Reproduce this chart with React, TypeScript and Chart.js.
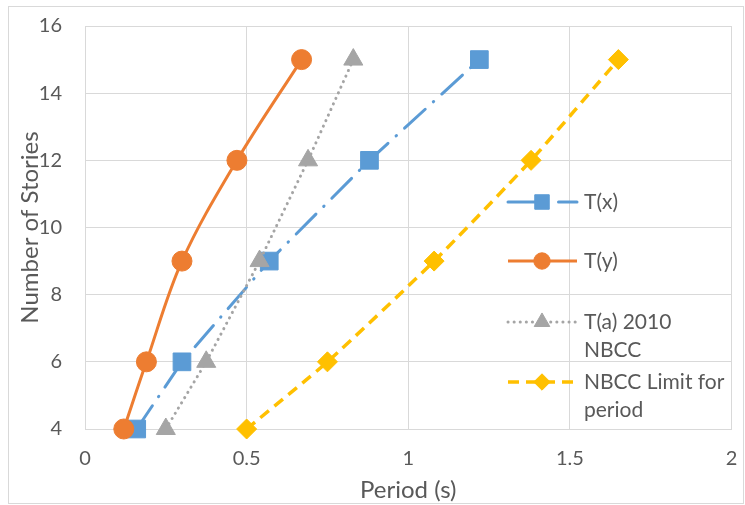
import React, { useEffect, useRef } from "react";
import { Chart, registerables } from "chart.js";

Chart.register(...registerables);

const stories = [4, 6, 9, 12, 15];
const periodTx = [0.16, 0.3, 0.57, 0.88, 1.22];
const periodTy = [0.12, 0.19, 0.3, 0.47, 0.67];
const periodTa = [0.25, 0.375, 0.54, 0.69, 0.83];
const periodLimit = [0.5, 0.75, 1.08, 1.38, 1.65];
const seriesNames = ["T(x)", "T(y)", "T(a) 2010 NBCC", "NBCC Limit for period"];
const legendLines = [["T(x)"], ["T(y)"], ["T(a) 2010", "NBCC"], ["NBCC Limit for", "period"]];
const xTitle = "Period (s)";
const yTitle = "Number of Stories";

const FONT = "Lato, 'Liberation Sans', sans-serif";
const TEXT = "#595959";
const GRID = "#d9d9d9";

const toPoints = (xs: number[]) => xs.map((x, i) => ({ x, y: stories[i] }));

function drawMarker(ctx: CanvasRenderingContext2D, style: string, x: number, y: number, r: number, color: string) {
  ctx.save();
  ctx.setLineDash([]);
  ctx.fillStyle = color;
  ctx.strokeStyle = color;
  ctx.lineWidth = 1;
  ctx.beginPath();
  if (style === "rect") {
    const s = Math.SQRT1_2 * r;
    ctx.rect(x - s, y - s, 2 * s, 2 * s);
  } else if (style === "circle") {
    ctx.arc(x, y, r, 0, Math.PI * 2);
  } else if (style === "triangle") {
    ctx.moveTo(x, y - r);
    ctx.lineTo(x + r * Math.sin(Math.PI / 3), y + r / 2);
    ctx.lineTo(x - r * Math.sin(Math.PI / 3), y + r / 2);
    ctx.closePath();
  } else {
    ctx.moveTo(x, y - r);
    ctx.lineTo(x + r, y);
    ctx.lineTo(x, y + r);
    ctx.lineTo(x - r, y);
    ctx.closePath();
  }
  ctx.fill();
  ctx.stroke();
  ctx.restore();
}

const framePlugin = {
  id: "frame",
  beforeDraw(chart: any) {
    const ctx = chart.ctx;
    ctx.save();
    ctx.fillStyle = "#ffffff";
    ctx.fillRect(0, 0, chart.width, chart.height);
    ctx.strokeStyle = GRID;
    ctx.lineWidth = 1;
    ctx.strokeRect(8.5, 6.5, 735, 497);
    ctx.restore();
  },
};

const legendPlugin = {
  id: "customLegend",
  afterDraw(chart: any) {
    const ctx = chart.ctx;
    const rows = [202, 261, 322, 382];
    chart.data.datasets.forEach((ds: any, i: number) => {
      const y = rows[i];
      ctx.save();
      ctx.strokeStyle = ds.borderColor;
      ctx.lineWidth = ds.borderWidth;
      ctx.setLineDash(ds.borderDash || []);
      ctx.lineCap = ds.borderCapStyle || "butt";
      ctx.beginPath();
      ctx.moveTo(508, y);
      ctx.lineTo(577, y);
      ctx.stroke();
      ctx.restore();
      drawMarker(ctx, ds.pointStyle, 542, y, ds.pointRadius * 0.82, ds.borderColor);
      ctx.save();
      ctx.fillStyle = TEXT;
      ctx.font = `21px ${FONT}`;
      ctx.textAlign = "left";
      ctx.textBaseline = "middle";
      legendLines[i].forEach((t, k) => ctx.fillText(t, 584, y + k * 28));
      ctx.restore();
    });
  },
};

const zeroPad = (s: any) => {
  s.paddingLeft = 0;
  s.paddingRight = 0;
  s.paddingTop = 0;
  s.paddingBottom = 0;
};

export default function App() {
  const ref = useRef<HTMLCanvasElement>(null);
  useEffect(() => {
    document.body.style.margin = "0";
    const chart = new Chart(ref.current as HTMLCanvasElement, {
      type: "line",
      data: {
        datasets: [
          {
            label: seriesNames[0],
            data: toPoints(periodTx),
            borderColor: "#5B9BD5",
            backgroundColor: "#5B9BD5",
            borderWidth: 3,
            borderDash: [28, 11, 0.5, 11],
            borderCapStyle: "round",
            pointStyle: "rect",
            pointRadius: 12.5,
            pointBorderWidth: 1,
            tension: 0,
            order: 3,
            clip: false,
          },
          {
            label: seriesNames[1],
            data: toPoints(periodTy),
            borderColor: "#ED7D31",
            backgroundColor: "#ED7D31",
            borderWidth: 3,
            pointStyle: "circle",
            pointRadius: 10,
            pointBorderWidth: 1,
            tension: 0.35,
            order: 2,
            clip: false,
          },
          {
            label: seriesNames[2],
            data: toPoints(periodTa),
            borderColor: "#A5A5A5",
            backgroundColor: "#A5A5A5",
            borderWidth: 3,
            borderDash: [0.1, 6],
            borderCapStyle: "round",
            pointStyle: "triangle",
            pointRadius: 11,
            pointBorderWidth: 1,
            tension: 0,
            order: 1,
            clip: false,
          },
          {
            label: seriesNames[3],
            data: toPoints(periodLimit),
            borderColor: "#FFC000",
            backgroundColor: "#FFC000",
            borderWidth: 3.5,
            borderDash: [11, 7],
            pointStyle: "rectRot",
            pointRadius: 10,
            pointBorderWidth: 1,
            tension: 0.2,
            order: 0,
            clip: false,
          },
        ],
      },
      options: {
        animation: false,
        responsive: false,
        layout: { padding: { left: 0, top: 26, right: 10, bottom: 0 } },
        plugins: { legend: { display: false }, tooltip: { enabled: false } },
        scales: {
          x: {
            type: "linear",
            min: 0,
            max: 2,
            ticks: {
              stepSize: 0.5,
              color: TEXT,
              font: { family: FONT, size: 20 },
              padding: 18,
              maxRotation: 0,
              callback: (v: any) => String(v),
            },
            grid: { color: GRID, lineWidth: 1, drawTicks: false },
            border: { color: GRID },
            title: { display: true, text: xTitle, color: TEXT, font: { family: FONT, size: 24 }, padding: { top: 3, bottom: 0 } },
            afterFit: (s: any) => { s.height = 76; zeroPad(s); },
          },
          y: {
            type: "linear",
            min: 4,
            max: 16,
            ticks: { stepSize: 2, color: TEXT, font: { family: FONT, size: 20 }, padding: 23 },
            grid: { color: GRID, lineWidth: 1, drawTicks: false },
            border: { color: GRID },
            title: { display: true, text: yTitle, color: TEXT, font: { family: FONT, size: 24 }, padding: { top: 16, bottom: 0 } },
            afterFit: (s: any) => { s.width = 85; zeroPad(s); },
          },
        },
      } as any,
      plugins: [framePlugin, legendPlugin],
    });
    return () => chart.destroy();
  }, []);
  return (
    <div style={{ width: 745, height: 505 }}>
      <canvas ref={ref} width={745} height={505} style={{ display: "block" }} />
    </div>
  );
}
